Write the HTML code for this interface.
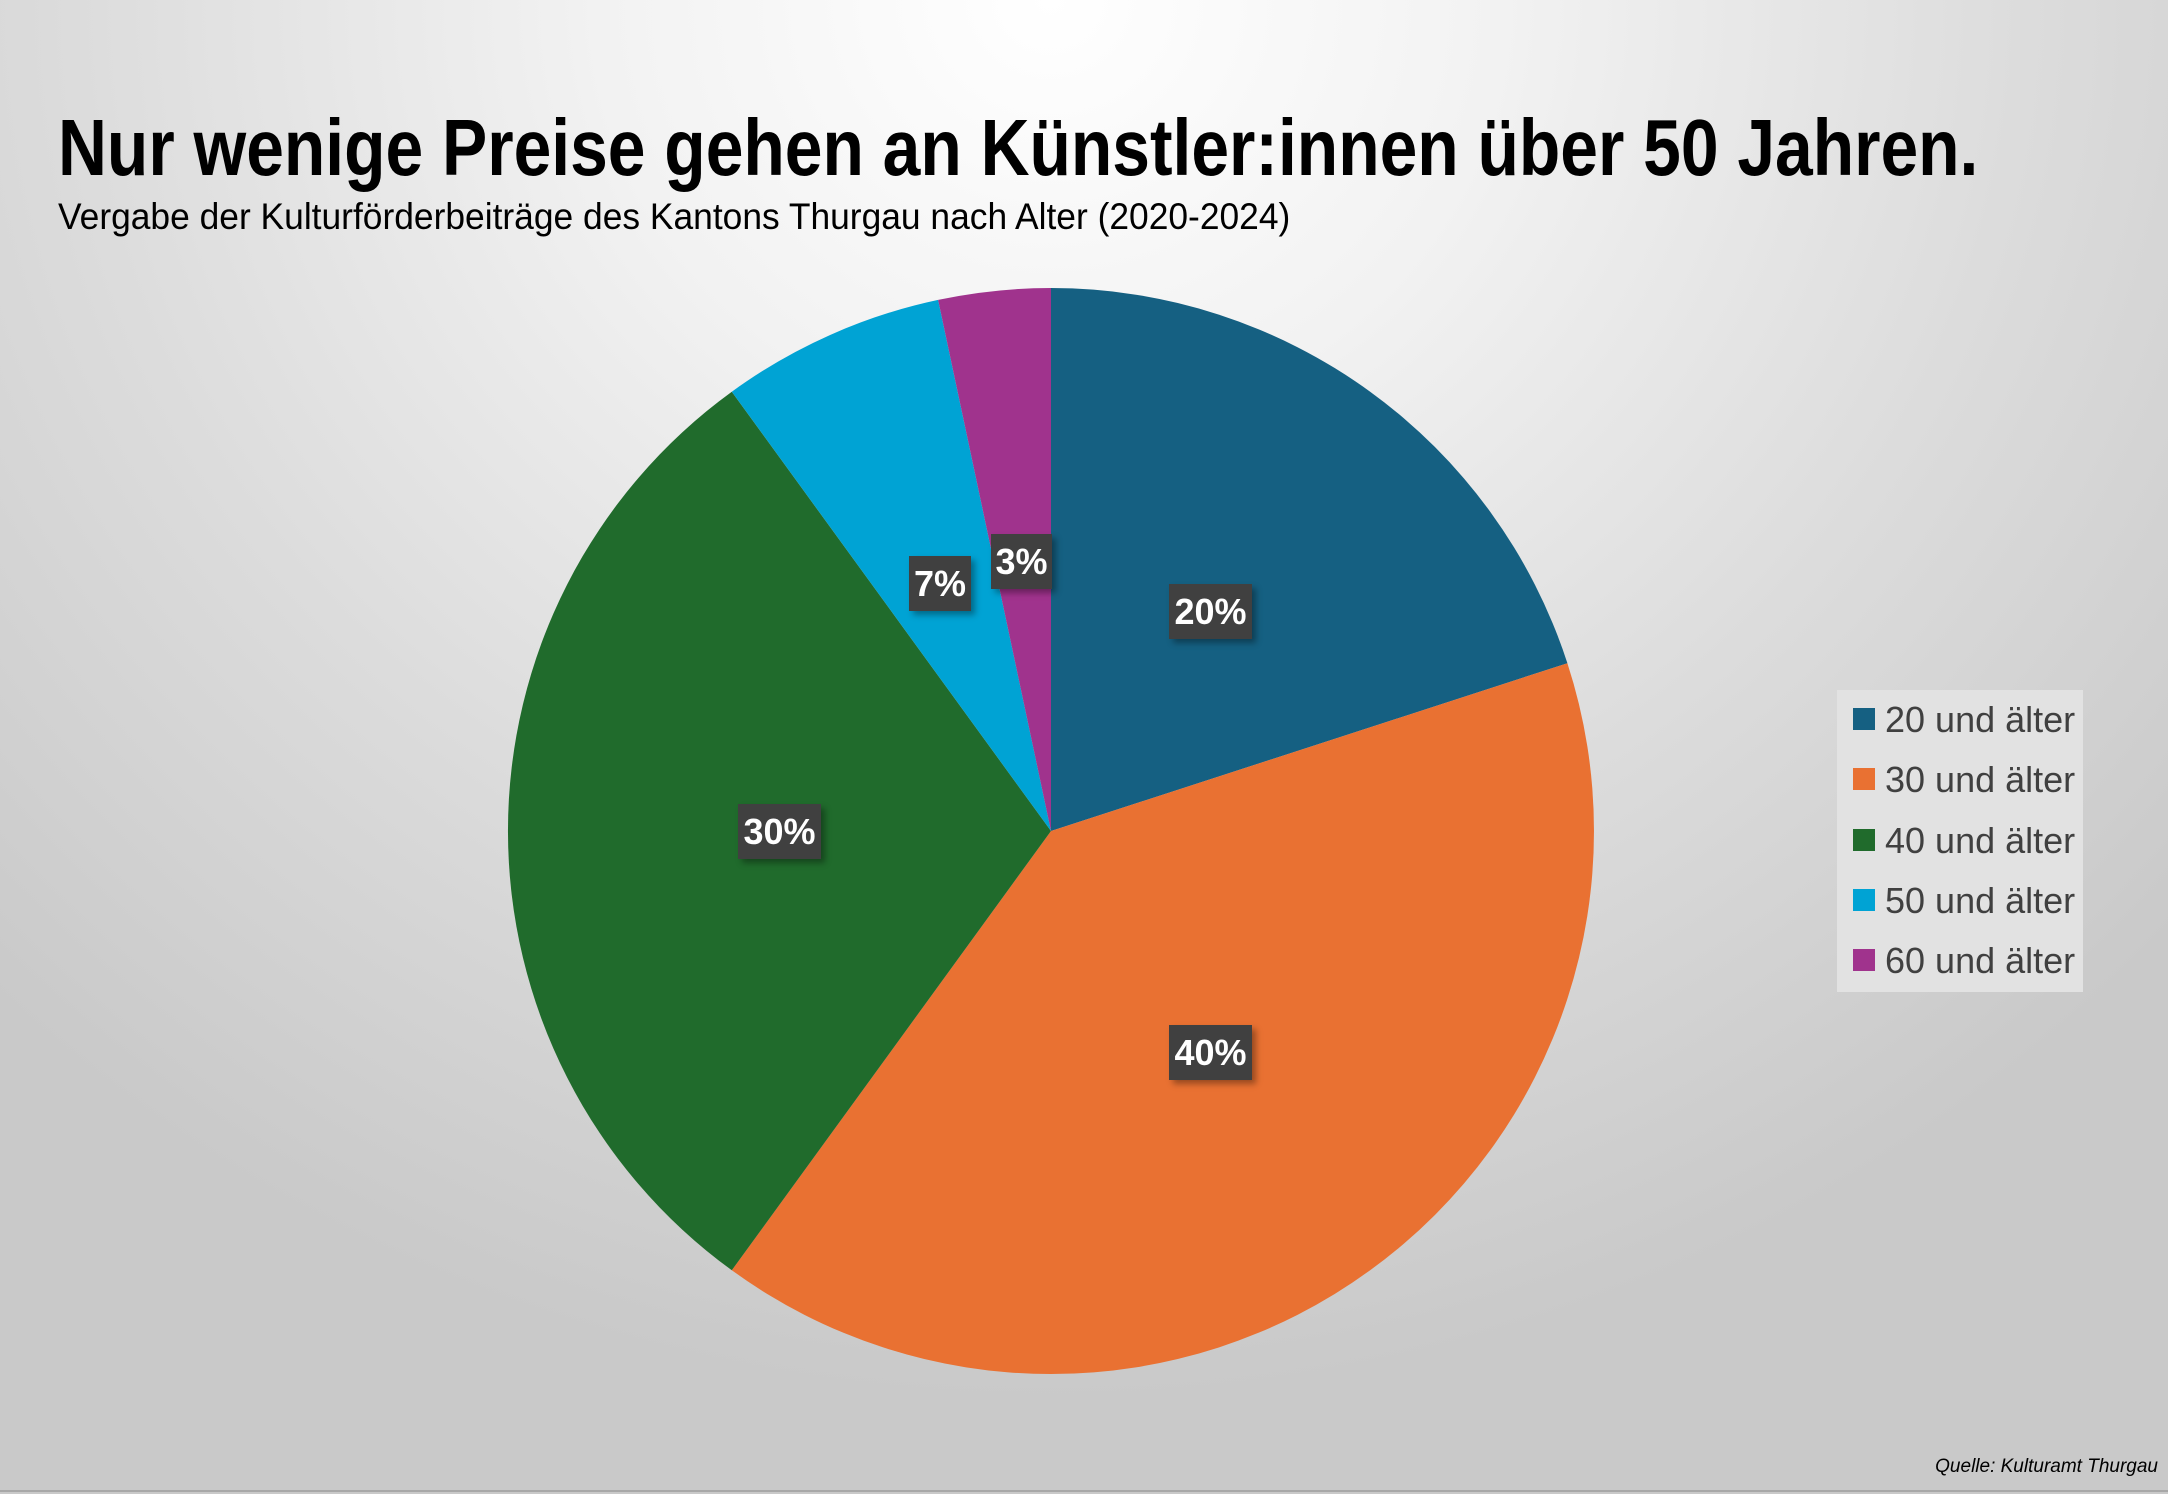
<!DOCTYPE html>
<html><head><meta charset="utf-8"><style>
html,body{margin:0;padding:0;}
body{width:2168px;height:1494px;overflow:hidden;position:relative;
background:radial-gradient(ellipse 1500px 1400px at 1050px 0px,#ffffff 0%,#f2f2f2 30%,#dcdcdc 65%,#c9c9c9 100%);
font-family:"Liberation Sans",sans-serif;}
.t{position:absolute;left:58px;top:108px;font-family:"Liberation Sans",sans-serif;font-weight:bold;font-size:80px;color:#000;white-space:nowrap;line-height:1;transform:scaleX(0.847);transform-origin:0 0;}
.s{position:absolute;left:58px;top:198px;font-family:"Liberation Sans",sans-serif;font-size:37px;color:#000;white-space:nowrap;line-height:1;transform:scaleX(0.956);transform-origin:0 0;}
.lab{position:absolute;background:#404040;color:#fff;font-weight:bold;font-size:36px;text-align:center;line-height:55px;height:55px;box-shadow:4px 4px 6px rgba(0,0,0,0.35);}
.leg{position:absolute;left:1837px;top:690px;width:246px;height:302px;background:#e2e2e2;}
.row{position:absolute;left:16px;height:60px;font-size:36px;color:#404040;line-height:60px;white-space:nowrap;}
.sq{display:inline-block;width:22px;height:22px;vertical-align:middle;margin-right:10px;position:relative;top:-3px;}
.q{position:absolute;right:10px;top:1456px;font-style:italic;font-size:19px;color:#000;}
.ln{position:absolute;left:0;top:1490px;width:2168px;height:2px;background:#a8a8a8;}
</style></head><body>
<div class="t">Nur wenige Preise gehen an Künstler:innen über 50 Jahren.</div>
<div class="s">Vergabe der Kulturförderbeiträge des Kantons Thurgau nach Alter (2020-2024)</div>
<svg width="2168" height="1494" style="position:absolute;left:0;top:0">
<path d="M1051,831 L1051,288 A543,543 0 0 1 1567.4,663.2 Z" fill="#156082"/>
<path d="M1051,831 L1567.4,663.2 A543,543 0 0 1 731.8,1270.3 Z" fill="#E97132"/>
<path d="M1051,831 L731.8,1270.3 A543,543 0 0 1 731.8,391.7 Z" fill="#206B2C"/>
<path d="M1051,831 L731.8,391.7 A543,543 0 0 1 938.1,299.9 Z" fill="#00A3D4"/>
<path d="M1051,831 L938.1,299.9 A543,543 0 0 1 1051,288 Z" fill="#A0338D"/>
</svg>
<div class="lab" style="left:991px;top:534px;width:61px;">3%</div>
<div class="lab" style="left:909px;top:556px;width:62px;">7%</div>
<div class="lab" style="left:1169px;top:584px;width:83px;">20%</div>
<div class="lab" style="left:738px;top:804px;width:83px;">30%</div>
<div class="lab" style="left:1169px;top:1025px;width:83px;">40%</div>
<div class="leg">
<div class="row" style="top:0px"><span class="sq" style="background:#156082"></span>20 und älter</div>
<div class="row" style="top:60px"><span class="sq" style="background:#E97132"></span>30 und älter</div>
<div class="row" style="top:121px"><span class="sq" style="background:#206B2C"></span>40 und älter</div>
<div class="row" style="top:181px"><span class="sq" style="background:#00A3D4"></span>50 und älter</div>
<div class="row" style="top:241px"><span class="sq" style="background:#A0338D"></span>60 und älter</div>
</div>
<div class="q">Quelle: Kulturamt Thurgau</div>
<div class="ln"></div>
</body></html>
